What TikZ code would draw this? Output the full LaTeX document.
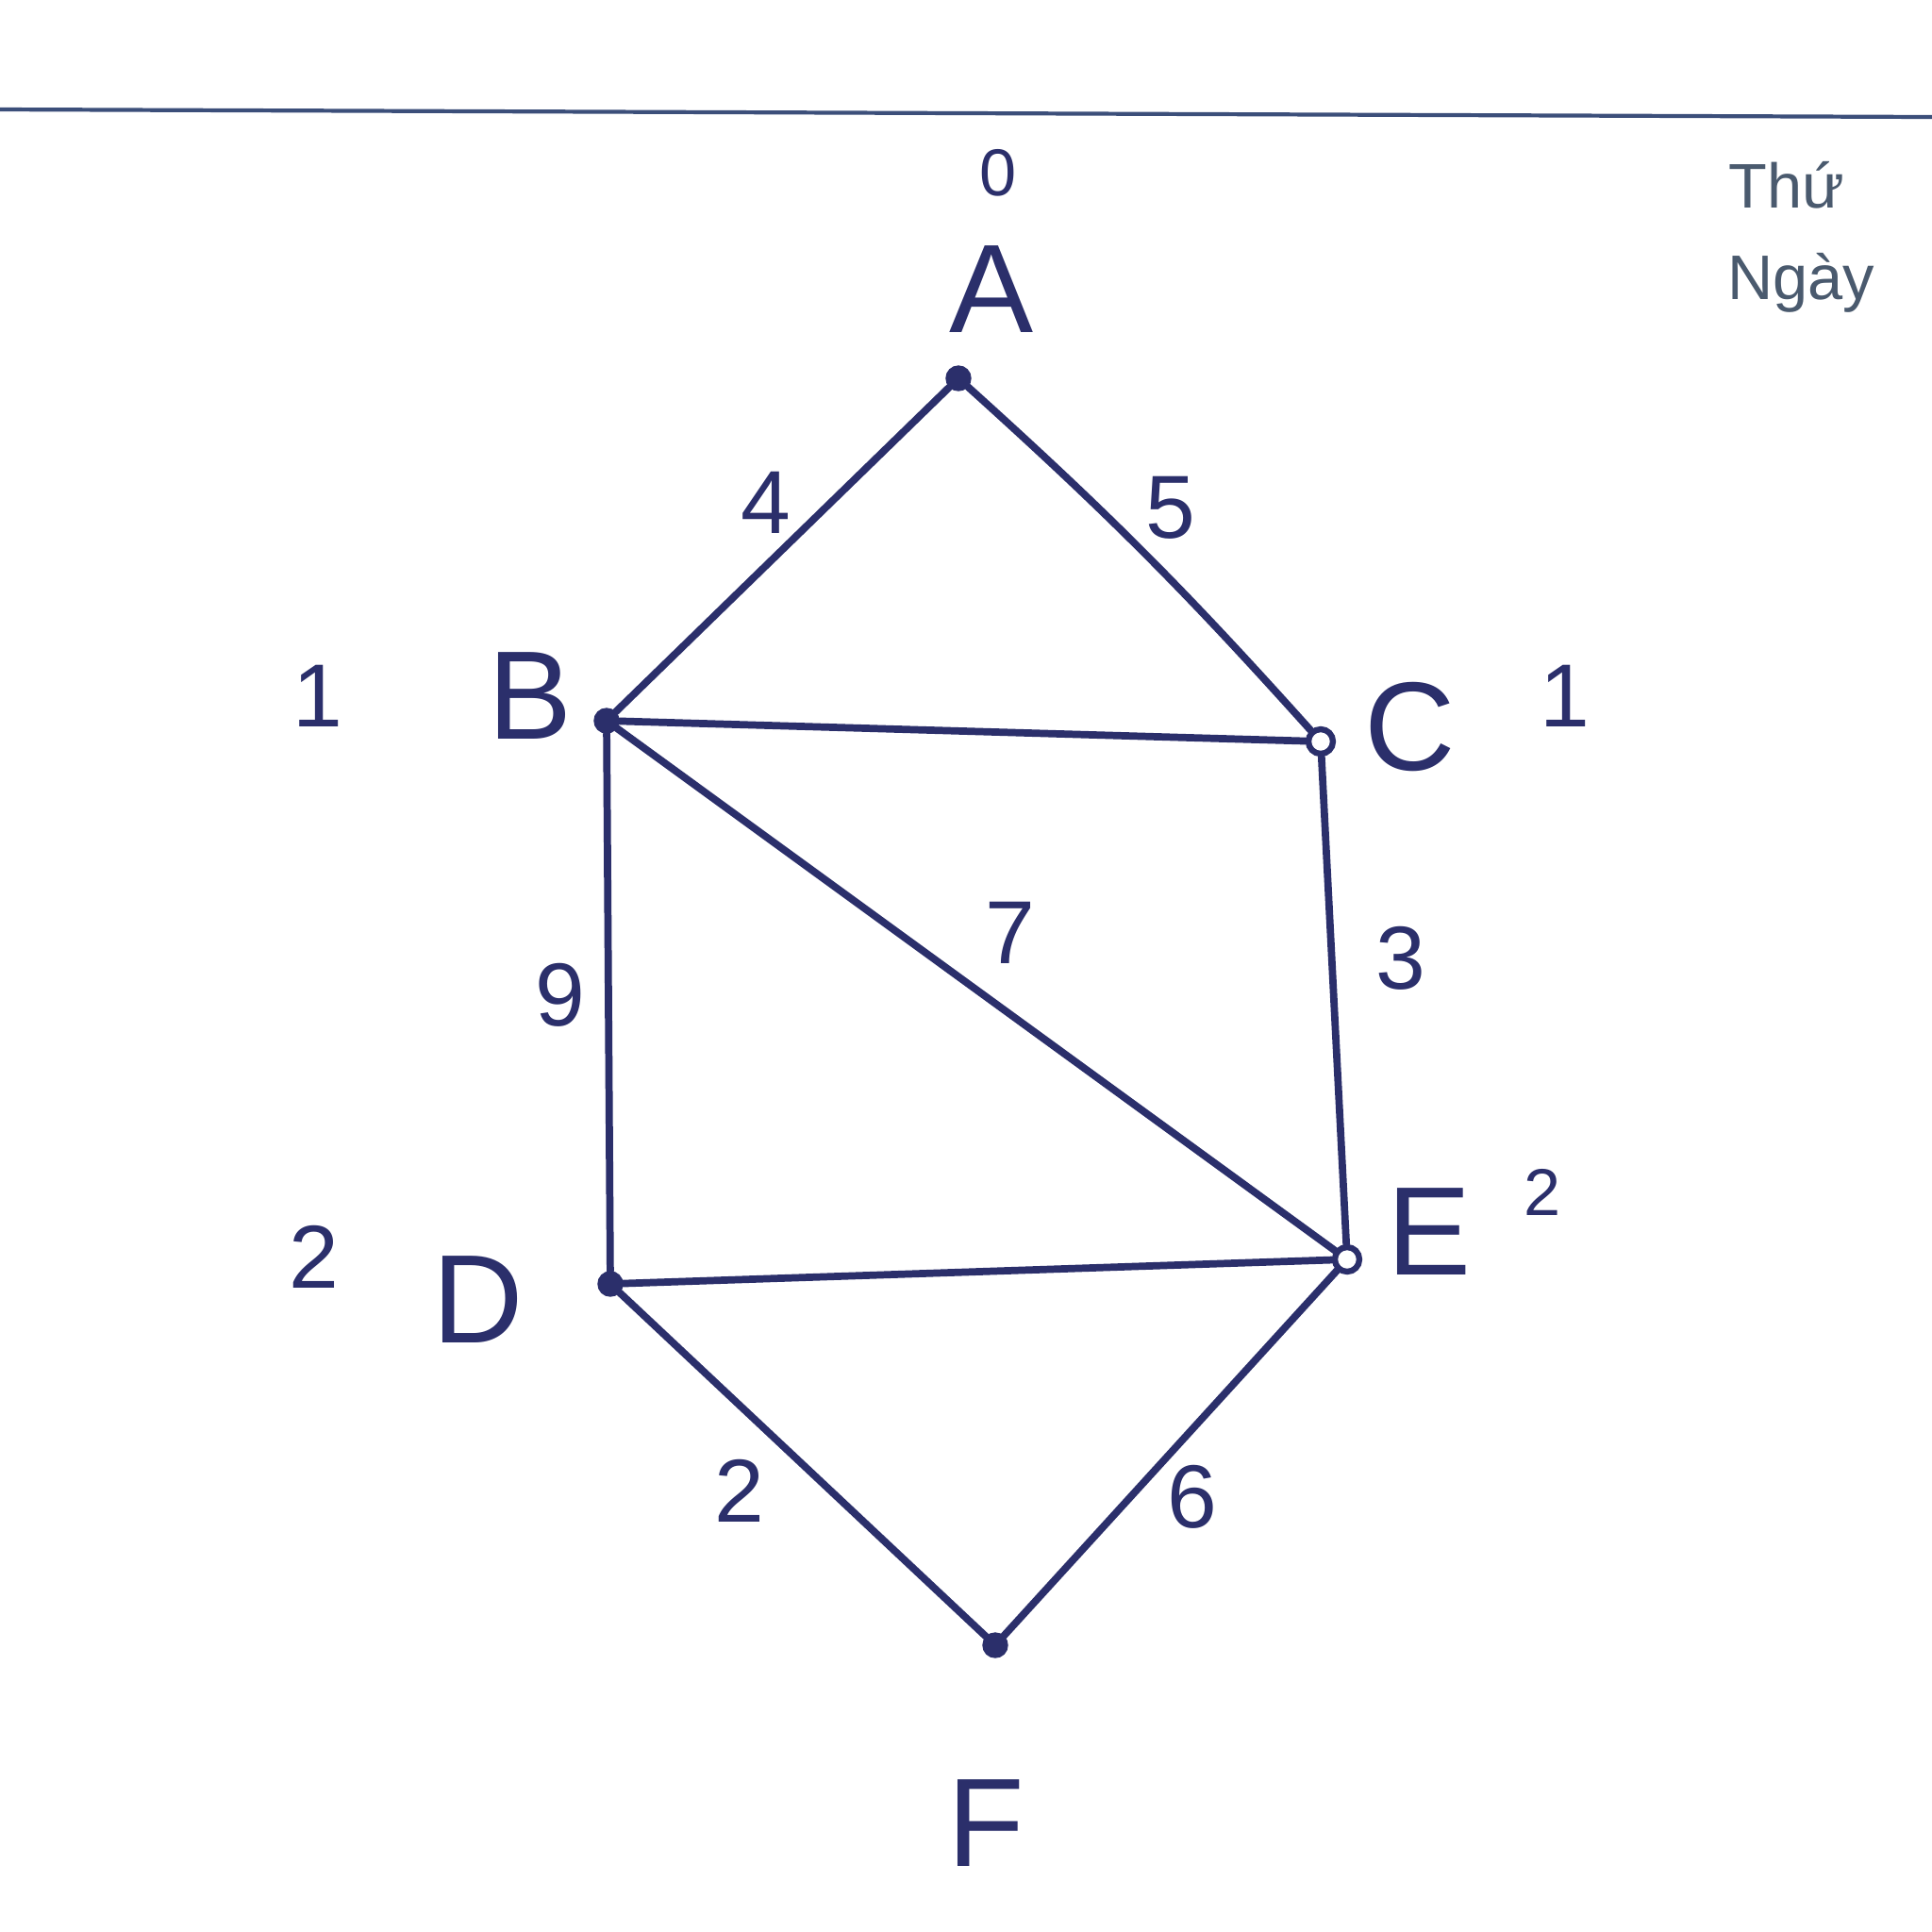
\documentclass[tikz,border=0pt]{standalone}
\usepackage{fontspec}
\setmainfont{Liberation Sans}
\begin{document}
\begin{tikzpicture}[x=1cm,y=1cm,
  ink/.style={draw=inkblue, line width=2.2pt, line cap=round},
  fdot/.style={circle, fill=inkblue, draw=inkblue, inner sep=0pt, minimum size=0.26cm},
  odot/.style={circle, fill=white, draw=inkblue, line width=1.8pt, inner sep=0pt, minimum size=0.26cm},
  vlab/.style={text=inkblue, font=\fontsize{38}{40}\selectfont},
  wlab/.style={text=inkblue, font=\fontsize{27}{30}\selectfont},
  slab/.style={text=inkblue, font=\fontsize{20}{22}\selectfont},
  plab/.style={text=graytxt, font=\fontsize{19}{22}\selectfont}]
\definecolor{inkblue}{HTML}{2B2F6B}
\definecolor{graytxt}{HTML}{4A5A6E}
\definecolor{rule}{HTML}{3C4F7A}
\useasboundingbox (0,0) rectangle (20.48,-20.48);
\fill[white] (0,0) rectangle (20.48,-20.48);
% header rule
\coordinate (r1) at (0,-1.16);
\coordinate (r2) at (20.48,-1.24);
\draw[rule, line width=1.2pt] (r1) -- (r2);
% vertices
\node[fdot] (A) at (10.16,-4.01) {};
\node[fdot] (B) at (6.43,-7.64) {};
\node[odot] (C) at (14.00,-7.86) {};
\node[fdot] (D) at (6.47,-13.61) {};
\node[odot] (E) at (14.28,-13.35) {};
\node[fdot] (F) at (10.55,-17.44) {};
% edges
\draw[ink] (A) -- (B);
\draw[ink] (A) to[bend left=3] (C);
\draw[ink] (B) -- (C);
\draw[ink] (B) -- (E);
\draw[ink] (B) -- (D);
\draw[ink] (C) -- (E);
\draw[ink] (D) -- (E);
\draw[ink] (D) -- (F);
\draw[ink] (E) -- (F);
% vertex labels
\node[vlab] (lA) at (10.51,-3.07) {A};
\node[vlab] (lB) at (5.62,-7.38) {B};
\node[vlab] (lC) at (14.95,-7.71) {C};
\node[vlab] (lD) at (5.07,-13.78) {D};
\node[vlab] (lE) at (15.15,-13.06) {E};
\node[vlab] (lF) at (10.45,-19.33) {F};
% distance labels
\node[slab] (dA) at (10.58,-1.83) {0};
\node[wlab] (dB) at (3.37,-7.38) {1};
\node[wlab] (dC) at (16.59,-7.38) {1};
\node[wlab] (dD) at (3.33,-13.32) {2};
\node[slab] (dE) at (16.35,-12.64) {2};
% edge weights
\node[wlab] (wAB) at (8.12,-5.33) {4};
\node[wlab] (wAC) at (12.41,-5.38) {5};
\node[wlab] (wBE) at (10.71,-9.89) {7};
\node[wlab] (wBD) at (5.94,-10.55) {9};
\node[wlab] (wCE) at (14.85,-10.16) {3};
\node[wlab] (wDF) at (7.84,-15.80) {2};
\node[wlab] (wEF) at (12.64,-15.87) {6};
% printed header
\node[plab] (thu) at (18.94,-1.96) {Thứ};
\node[plab] (ngay) at (19.09,-3.00) {Ngày};
\end{tikzpicture}
\end{document}
